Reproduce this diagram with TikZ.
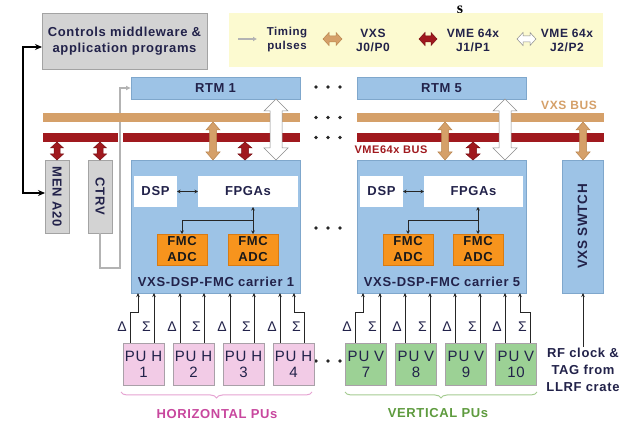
\documentclass[tikz,border=0pt]{standalone}
\usepackage{fontspec}
\setmainfont{Liberation Sans}
\newfontfamily\lsans[LetterSpace=5]{Liberation Sans}
\newfontfamily\serifstray{Liberation Serif}
\usetikzlibrary{arrows.meta,calc,decorations.pathreplacing}

\definecolor{lblue}{HTML}{9DC3E6}
\definecolor{lblueD}{HTML}{7FA7CC}
\definecolor{tanc}{HTML}{D5A069}
\definecolor{tanD}{HTML}{B8844E}
\definecolor{vred}{HTML}{A0191E}
\definecolor{vredD}{HTML}{7A1015}
\definecolor{gbox}{HTML}{D3D3D3}
\definecolor{gboxD}{HTML}{A3A3A3}
\definecolor{legy}{HTML}{FCFAD0}
\definecolor{orng}{HTML}{F7941D}
\definecolor{orngD}{HTML}{D97B12}
\definecolor{pinkc}{HTML}{F2CBE6}
\definecolor{grnc}{HTML}{9CD195}
\definecolor{puD}{HTML}{A9A0A8}
\definecolor{ink}{HTML}{22224A}
\definecolor{magc}{HTML}{C8479E}
\definecolor{grnt}{HTML}{5E9B3E}
\definecolor{tline}{HTML}{B3B3B3}
\definecolor{bracepink}{HTML}{E6A3D2}
\definecolor{bracegrn}{HTML}{A5CC92}

\newcommand{\vblockarrow}[7]{%
 \path[fill=#1,draw=#2,line width=0.5pt] let \p1=(#3), \p2=(#4) in
 (\x1,\y1) -- (\x1+#6,\y1-#7) -- (\x1+#5,\y1-#7) -- (\x1+#5,\y2+#7) -- (\x1+#6,\y2+#7)
 -- (\x1,\y2) -- (\x1-#6,\y2+#7) -- (\x1-#5,\y2+#7) -- (\x1-#5,\y1-#7) -- (\x1-#6,\y1-#7) -- cycle;}
\newcommand{\hblockarrow}[7]{%
 \path[fill=#1,draw=#2,line width=0.5pt] let \p1=(#3), \p2=(#4) in
 (\x1,\y1) -- (\x1+#7,\y1+#6) -- (\x1+#7,\y1+#5) -- (\x2-#7,\y1+#5) -- (\x2-#7,\y1+#6)
 -- (\x2,\y1) -- (\x2-#7,\y1-#6) -- (\x2-#7,\y1-#5) -- (\x1+#7,\y1-#5) -- (\x1+#7,\y1-#6) -- cycle;}

\tikzset{
 boxs/.style={inner sep=0pt, outer sep=0pt, line width=0.6pt},
 lbl/.style={font=\lsans\bfseries\fontsize{13}{16}\selectfont, text=ink, align=center, inner sep=1pt},
 legtxt/.style={font=\lsans\bfseries\fontsize{12}{14}\selectfont, text=ink, align=center, inner sep=1pt},
 pu/.style={boxs, draw=puD, minimum width=41pt, minimum height=42pt, font=\lsans\fontsize{15}{16}\selectfont, text=ink, align=center},
 pl/.style={line width=0.7pt, draw=black!85, -{Stealth[length=4pt,width=3.5pt]}},
 sm/.style={line width=0.8pt, draw=black!85, >={Stealth[length=3.5pt,width=3.5pt]}},
 gl/.style={font=\lsans\fontsize{14}{14}\selectfont, text=ink, inner sep=0pt},
 bus/.style={inner sep=0pt, outer sep=0pt, draw=none, minimum height=9pt},
 tl/.style={draw=tline, line width=2pt},
}

\begin{document}
\begin{tikzpicture}[x=1pt,y=-1pt]
\useasboundingbox (0,0) rectangle (630,422);
\fill[white] (0,0) rectangle (630,422);

% stray character
\node[font=\serifstray\bfseries\fontsize{16}{16}\selectfont, inner sep=0pt] (stray) at (460,10) {s};

% top boxes
\node[boxs, fill=gbox, draw=gboxD, minimum width=165pt, minimum height=56pt, lbl] (ctrl) at (124.5,41) {Controls middleware \&\\application programs};
\node[boxs, fill=legy, draw=none, minimum width=374pt, minimum height=54pt] (legend) at (416,40) {};

% legend
\coordinate (lt1) at (238,39); \coordinate (lt2) at (257,39);
\draw[tl, line width=1.8pt, -{Latex[length=4pt,width=5pt]}] (lt1) -- (lt2);
\node[legtxt, font=\lsans\bfseries\fontsize{11.5}{14}\selectfont] (ltim) at (287,40) {Timing\\pulses};
\coordinate (lv1) at (323,39); \coordinate (lv2) at (342,39);
\hblockarrow{tanc}{tanD}{lv1}{lv2}{3}{6.5}{6}
\node[legtxt] (lvxs) at (373,40) {VXS\\J0/P0};
\coordinate (lr1) at (419,39); \coordinate (lr2) at (437,39);
\hblockarrow{vred}{vredD}{lr1}{lr2}{3}{6.5}{6}
\node[legtxt] (lvme1) at (473,40) {VME 64x\\J1/P1};
\coordinate (lw1) at (517,39); \coordinate (lw2) at (536,39);
\hblockarrow{white}{black!45}{lw1}{lw2}{3}{6.5}{6}
\node[legtxt] (lvme2) at (567,40) {VME 64x\\J2/P2};

% RTMs
\node[boxs, fill=lblue, draw=lblueD, minimum width=169pt, minimum height=22pt, lbl] (rtm1) at (215.5,88) {RTM 1};
\node[boxs, fill=lblue, draw=lblueD, minimum width=169pt, minimum height=22pt, lbl] (rtm5) at (441.5,88) {RTM 5};

% buses (red first)
\node[bus, fill=vred, minimum width=257pt] (vmeL) at (171.5,137.5) {};
\node[bus, fill=vred, minimum width=247pt] (vmeR) at (480.5,137.5) {};

% crate modules
\node[boxs, fill=gbox, draw=gboxD, minimum width=24pt, minimum height=73pt] (men) at (57,196.5) {};
\node[lbl, rotate=-90] (menlbl) at (men.center) {MEN A20};
\node[boxs, fill=gbox, draw=gboxD, minimum width=24pt, minimum height=73pt] (ctrv) at (100,196.5) {};
\node[lbl, rotate=-90] (ctrvlbl) at (ctrv.center) {CTRV};

\node[boxs, fill=lblue, draw=lblueD, minimum width=169pt, minimum height=133pt] (c1) at (215.5,226.5) {};
\node[boxs, fill=lblue, draw=lblueD, minimum width=169pt, minimum height=133pt] (c5) at (441.5,226.5) {};
\node[boxs, fill=lblue, draw=lblueD, minimum width=41pt, minimum height=133pt] (sw) at (582.5,226.5) {};
\node[lbl, rotate=90, font=\lsans\bfseries\fontsize{13.5}{16}\selectfont] (swlbl) at (sw.center) {VXS SWTCH};

% timing line
\coordinate (tb) at (120,268);
\draw[white, line width=5pt] (tb |- vmeL.north) -- (tb |- vmeL.south);
\draw[tl, -{Latex[length=5pt,width=5pt]}] (ctrv.south) |- (tb) |- (rtm1.west);

% VXS bus on top of timing line
\node[bus, fill=tanc, minimum width=257pt] (vxsL) at (171.5,117.5) {};
\node[bus, fill=tanc, minimum width=247pt] (vxsR) at (480.5,117.5) {};
\node[font=\lsans\bfseries\fontsize{12}{14}\selectfont, text=tanc, inner sep=0pt] (vxslbl) at (569,105) {VXS BUS};
\node[font=\lsans\bfseries\fontsize{11}{14}\selectfont, text=vred, inner sep=0pt] (vmelbl) at (391,150) {VME64x BUS};

% dots
\foreach \yy in {87,117.5,137.5,228,361} {
  \foreach \xx in {316,328,340} { \fill[black!85] (\xx,\yy) circle (1.9pt); }
}

% carrier internals
\foreach \c/\dx/\fx/\fw/\ax/\bx/\lx/\nn in {c1/155.5/248/100/182/253/216/1, c5/381.5/473.5/99/408/478/442/5} {
  \node[boxs, fill=white, minimum width=43pt, minimum height=31pt, lbl] (dsp\nn) at (\dx,191.5) {DSP};
  \node[boxs, fill=white, minimum width=\fw pt, minimum height=31pt, lbl] (fpga\nn) at (\fx,191.5) {FPGAs};
  \node[boxs, fill=orng, draw=orngD, minimum width=50pt, minimum height=31pt, lbl, text=black!90] (fmca\nn) at (\ax,249.5) {FMC\\ADC};
  \node[boxs, fill=orng, draw=orngD, minimum width=50pt, minimum height=31pt, lbl, text=black!90] (fmcb\nn) at (\bx,249.5) {FMC\\ADC};
  \node[lbl] (clbl\nn) at (\lx,282) {VXS-DSP-FMC carrier \nn};
  \draw[sm, <->] (dsp\nn.east) -- (fpga\nn.west);
  \coordinate (j\nn) at ([yshift=14pt]fmcb\nn.north);
  \draw[sm, <->] (fmcb\nn.north) -- (fmcb\nn.north |- fpga\nn.south);
  \draw[sm, ->] (j\nn) -| (fmca\nn.north);
}

% bus arrows
\coordinate (xt1) at (213,0); \coordinate (xr1) at (245,0); \coordinate (xw1) at (276,0);
\coordinate (xt5) at (445,0); \coordinate (xr5) at (473,0); \coordinate (xw5) at (505,0);
\coordinate (xts) at (583,0);
\vblockarrow{tanc}{tanD}{xt1 |- vxsL.south}{xt1 |- c1.north}{3.5}{7}{8}
\vblockarrow{vred}{vredD}{xr1 |- vmeL.south}{xr1 |- c1.north}{3.5}{7}{6}
\vblockarrow{white}{black!45}{xw1 |- rtm1.south}{xw1 |- c1.north}{6}{12}{12}
\vblockarrow{tanc}{tanD}{xt5 |- vxsR.south}{xt5 |- c5.north}{3.5}{7}{8}
\vblockarrow{vred}{vredD}{xr5 |- vmeR.south}{xr5 |- c5.north}{3.5}{7}{6}
\vblockarrow{white}{black!45}{xw5 |- rtm5.south}{xw5 |- c5.north}{6}{12}{12}
\vblockarrow{tanc}{tanD}{xts |- vxsR.south}{xts |- sw.north}{3.5}{7}{8}
\vblockarrow{vred}{vredD}{men.north |- vmeL.south}{men.north}{3}{6.5}{6}
\vblockarrow{vred}{vredD}{ctrv.north |- vmeL.south}{ctrv.north}{3}{6.5}{6}

% black control arrow
\draw[line width=1.6pt, black, {Stealth[length=7pt,width=6pt]}-{Stealth[length=7pt,width=6pt]}]
  ([yshift=-6pt]ctrl.west) -| ([xshift=-22pt,yshift=3.5pt]men.west) -- ([yshift=3.5pt]men.west);

% pick-ups
\foreach \n/\cx in {1/143.5,2/193.5,3/243.5,4/293.5} {
  \node[pu, fill=pinkc] (h\n) at (\cx,364) {PU H\\\n};
  \coordinate (hd\n) at ([xshift=-13.5pt]h\n.north);
  \coordinate (hs\n) at ([xshift=10.5pt]h\n.north);
  \node[gl, anchor=east, xshift=-3pt] (hdl\n) at (hd\n |- 0,327) {Δ};
  \node[gl, anchor=east, xshift=-3pt] (hsl\n) at (hs\n |- 0,327) {Σ};
}
\foreach \n/\cx in {7/366,8/416,9/466,10/516} {
  \node[pu, fill=grnc] (v\n) at (\cx,364) {PU V\\\n};
  \coordinate (vd\n) at ([xshift=-11pt]v\n.north);
  \coordinate (vs\n) at ([xshift=14pt]v\n.north);
  \node[gl, anchor=east, xshift=-3pt] (vdl\n) at (vd\n |- 0,327) {Δ};
  \node[gl, anchor=east, xshift=-3pt] (vsl\n) at (vs\n |- 0,327) {Σ};
}
\foreach \n in {2,3,4} \draw[pl] (hd\n) -- (hd\n |- c1.south);
\foreach \n in {1,2,3} \draw[pl] (hs\n) -- (hs\n |- c1.south);
\coordinate (h1j) at (138,312); \coordinate (h4j) at (294,312);
\draw[pl] (hd1) |- (h1j) -- (h1j |- c1.south);
\draw[pl] (hs4) |- (h4j) -- (h4j |- c1.south);
\foreach \n in {8,9,10} \draw[pl] (vd\n) -- (vd\n |- c5.south);
\foreach \n in {7,8,9} \draw[pl] (vs\n) -- (vs\n |- c5.south);
\coordinate (v7j) at (363,312); \coordinate (v10j) at (520,312);
\draw[pl] (vd7) |- (v7j) -- (v7j |- c5.south);
\draw[pl] (vs10) |- (v10j) -- (v10j |- c5.south);

% braces and group labels
\coordinate (hbl) at (121,392); \coordinate (hbr) at (312,392);
\coordinate (vbl) at (345,392); \coordinate (vbr) at (537,392);
\draw[decorate, decoration={brace, mirror, amplitude=6pt}, draw=bracepink, line width=1pt] (hbl) -- (hbr);
\draw[decorate, decoration={brace, mirror, amplitude=6pt}, draw=bracegrn, line width=1pt] (vbl) -- (vbr);
\node[font=\lsans\bfseries\fontsize{13}{16}\selectfont, text=magc, inner sep=0pt] (hlab) at (217,414) {HORIZONTAL PUs};
\node[font=\lsans\bfseries\fontsize{13}{16}\selectfont, text=grnt, inner sep=0pt] (vlab) at (438,413) {VERTICAL PUs};

% RF clock
\node[lbl, font=\lsans\bfseries\fontsize{13}{17}\selectfont] (rf) at (583,370) {RF clock \&\\TAG from\\LLRF crate};
\draw[pl] (rf.north) -- (rf.north |- sw.south);
\end{tikzpicture}
\end{document}
